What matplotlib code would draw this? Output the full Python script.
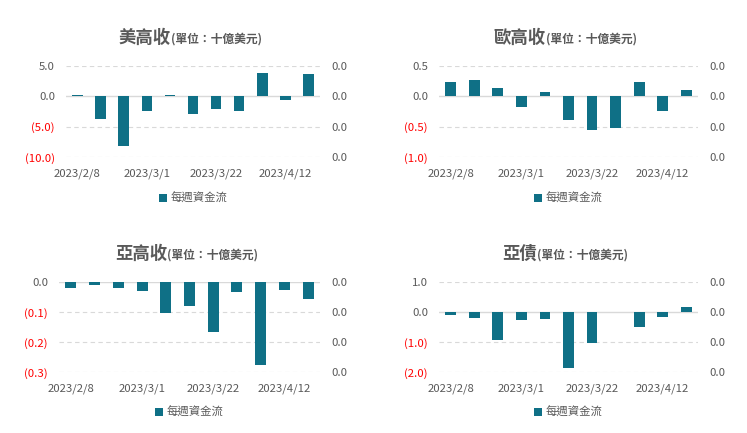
import matplotlib
matplotlib.use("Agg")
import matplotlib.pyplot as plt
import numpy as np

plt.rcParams['font.family'] = ['Noto Sans CJK TC', 'DejaVu Sans']

# weekly dates (every 3rd is labelled)
dates = ['2023/2/8', '2023/2/15', '2023/2/22', '2023/3/1', '2023/3/8', '2023/3/15',
         '2023/3/22', '2023/3/29', '2023/4/5', '2023/4/12', '2023/4/19']

us_hy = [0.15, -3.67, -8.15, -2.45, 0.15, -2.85, -2.15, -2.45, 3.9, -0.65, 3.72]
eu_hy = [0.235, 0.27, 0.135, -0.18, 0.07, -0.39, -0.55, -0.53, 0.235, -0.245, 0.105]
asia_hy = [-0.021, -0.011, -0.021, -0.031, -0.103, -0.080, -0.166, -0.034, -0.275, -0.027, -0.057]
asia_bond = [-0.1, -0.19, -0.92, -0.26, -0.23, -1.88, -1.02, 0.0, -0.49, -0.16, 0.18]

titles = ['美高收', '歐高收', '亞高收', '亞債']
subtitle = '(單位：十億美元)'
legend_label = '每週資金流'

W, H = 747, 433
bar_color = '#0F7086'
grey = '#595959'
grid_c = '#D9D9D9'

# (series, ylim, step, plot box left,right,top,bottom in px, title baseline px)
panels = [
    (us_hy, (-10, 5), 5, (66, 320, 66, 157), 43),
    (eu_hy, (-1.0, 0.5), 0.5, (439, 698, 66, 157), 43),
    (asia_hy, (-0.3, 0.0), 0.1, (59, 320, 282, 372), 259),
    (asia_bond, (-2.0, 1.0), 1.0, (439, 698, 282, 372), 259),
]

fig = plt.figure(figsize=(W / 100, H / 100), dpi=100)

def fmt(v):
    if abs(v) < 1e-9:
        return '0.0'
    if v < 0:
        return '(%.1f)' % abs(v)
    return '%.1f' % v

title_texts = []
for i, (vals, ylim, step, box, tb) in enumerate(panels):
    l, r, t, b = box
    ax = fig.add_axes([l / W, 1 - b / H, (r - l) / W, (b - t) / H])
    x = np.arange(len(dates))
    ax.bar(x, vals, width=0.46, color=bar_color, label=legend_label, zorder=3)
    ax.set_xlim(-0.5, len(dates) - 0.5)
    ax.set_ylim(*ylim)
    ticks = np.round(np.arange(ylim[0], ylim[1] + step / 2, step), 3)
    ax.set_yticks(ticks)
    ax.set_yticklabels([fmt(v) for v in ticks])
    for lab, v in zip(ax.get_yticklabels(), ticks):
        lab.set_color('#FF0000' if v < -1e-9 else grey)
    ax.set_xticks(x[::3])
    ax.set_xticklabels(dates[::3])
    ax.tick_params(axis='x', length=0, pad=8, labelsize=8.2, labelcolor=grey)
    ax.tick_params(axis='y', length=0, pad=8, labelsize=8.2)
    for s in ax.spines.values():
        s.set_visible(False)
    for v in ticks:
        if abs(v) > 1e-9:
            ax.axhline(v, color=grid_c, lw=0.8, ls=(0, (4, 3)), zorder=1)
    ax.axhline(0, color=grid_c, lw=1.0, zorder=2)

    ax2 = ax.twinx()
    ax2.set_ylim(*ylim)
    ax2.set_yticks(ticks)
    ax2.set_yticklabels(['0.0'] * len(ticks))
    ax2.tick_params(axis='y', length=0, pad=8, labelsize=8.2, labelcolor=grey)
    for s in ax2.spines.values():
        s.set_visible(False)

    ax.legend(loc='center', bbox_to_anchor=(0.5, -0.45), frameon=False,
              handlelength=0.7, handleheight=0.7, handletextpad=0.3,
              prop={'size': 8.2}, labelcolor=grey)

    cx = (l + r) / 2 - 3
    t1 = fig.text(0, 1 - tb / H, titles[i], fontsize=12.5, fontweight='bold',
                  color=grey, va='baseline', ha='left')
    t2 = fig.text(0, 1 - tb / H, subtitle, fontsize=8.5, fontweight='bold',
                  color=grey, va='baseline', ha='left')
    title_texts.append((t1, t2, cx))

fig.canvas.draw()
rend = fig.canvas.get_renderer()
for t1, t2, cx in title_texts:
    w1 = t1.get_window_extent(rend).width
    w2 = t2.get_window_extent(rend).width
    x0 = cx - (w1 + w2) / 2
    t1.set_x(x0 / W)
    t2.set_x((x0 + w1) / W)

fig.savefig('out.png', dpi=100)
